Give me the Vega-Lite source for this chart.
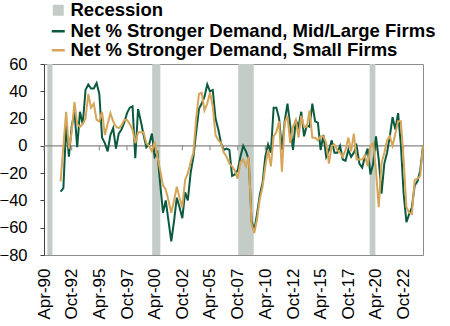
{
 "$schema": "https://vega.github.io/schema/vega-lite/v6.json",
 "width": 379, "height": 191,
 "autosize": {"type": "none"},
 "padding": {"left": 44, "top": 64, "right": 27, "bottom": 71},
 "config": {"font": "Liberation Sans", "view": {"stroke": "#8c8c8c", "strokeWidth": 1},
  "axisX": {"format": "%b-%y", "formatType": "utc", "labelAngle": -90, "labelAlign": "right", "labelBaseline": "middle", "labelFontSize": 17, "labelColor": "#000000", "labelPadding": 13, "ticks": false, "grid": false, "domainColor": "#8c8c8c", "labelOverlap": false, "labelFlush": false, "title": null},
  "axisY": {"grid": false, "tickSize": 4, "tickColor": "#404040", "domainColor": "#404040", "labelFontSize": 16.5, "labelColor": "#000000", "labelPadding": 13, "labelOverlap": false, "labelFlush": false, "title": null}
 },
 "datasets": {
  "ticks": [
   {"t": "1990-04-01"}, {"t": "1992-10-01"}, {"t": "1995-04-01"}, {"t": "1997-10-01"}, {"t": "2000-04-01"}, {"t": "2002-10-01"}, {"t": "2005-04-01"},
   {"t": "2007-10-01"}, {"t": "2010-04-01"}, {"t": "2012-10-01"}, {"t": "2015-04-01"}, {"t": "2017-10-01"}, {"t": "2020-04-01"}, {"t": "2022-10-01"}
  ]
 },
 "layer": [
  {
   "data": {"values": [
    {"start": "1990-07-20", "end": "1991-01-05", "k": "Recession"},
    {"start": "2000-01-10", "end": "2000-10-05", "k": "Recession"},
    {"start": "2007-10-20", "end": "2009-03-15", "k": "Recession"},
    {"start": "2019-09-05", "end": "2020-03-12", "k": "Recession"}
   ]},
   "mark": {"type": "rect"},
   "encoding": {
    "x": {"field": "start", "type": "temporal", "title": null,
     "scale": {"type": "utc", "domain": [{"year": 1990, "month": 4, "date": 1, "utc": true}, {"year": 2024, "month": 7, "date": 1, "utc": true}]},
     "axis": {"labelOverlap": false, "labelFlush": false, "values": [
       {"year": 1990, "month": 4, "date": 1, "utc": true}, {"year": 1992, "month": 10, "date": 1, "utc": true},
       {"year": 1995, "month": 4, "date": 1, "utc": true}, {"year": 1997, "month": 10, "date": 1, "utc": true},
       {"year": 2000, "month": 4, "date": 1, "utc": true}, {"year": 2002, "month": 10, "date": 1, "utc": true},
       {"year": 2005, "month": 4, "date": 1, "utc": true}, {"year": 2007, "month": 10, "date": 1, "utc": true},
       {"year": 2010, "month": 4, "date": 1, "utc": true}, {"year": 2012, "month": 10, "date": 1, "utc": true},
       {"year": 2015, "month": 4, "date": 1, "utc": true}, {"year": 2017, "month": 10, "date": 1, "utc": true},
       {"year": 2020, "month": 4, "date": 1, "utc": true}, {"year": 2022, "month": 10, "date": 1, "utc": true}
      ]}},
    "x2": {"field": "end"},
    "y": {"datum": 60, "type": "quantitative", "title": null, "scale": {"domain": [-80, 60], "nice": false}, "axis": {"labelOverlap": false, "labelFlush": false, "values": [-80, -60, -40, -20, 0, 20, 40, 60]}},
    "y2": {"datum": -80},
    "fill": {"field": "k", "type": "nominal", "scale": {"domain": ["Recession"], "range": ["#c3ccc7"]},
     "legend": {"orient": "none", "legendX": 5, "legendY": -63, "title": null, "symbolType": "square", "symbolSize": 121, "symbolStrokeWidth": 0, "labelFontSize": 18.5, "labelFontWeight": "bold", "labelColor": "#000000", "labelOffset": 3, "padding": 0}}
   }
  },
  {
   "data": {"values": [{"z": 0}]},
   "mark": {"type": "rule", "color": "#858585", "strokeWidth": 1.3},
   "encoding": {"y": {"field": "z", "type": "quantitative", "title": null, "axis": {"labelOverlap": false, "labelFlush": false, "values": [-80, -60, -40, -20, 0, 20, 40, 60]}}}
  },
  {
   "data": {"name": "ticks"},
   "mark": {"type": "rule", "color": "#858585", "strokeWidth": 1},
   "encoding": {
    "x": {"field": "t", "type": "temporal", "title": null,
     "axis": {"labelOverlap": false, "labelFlush": false, "values": [
       {"year": 1990, "month": 4, "date": 1, "utc": true}, {"year": 1992, "month": 10, "date": 1, "utc": true},
       {"year": 1995, "month": 4, "date": 1, "utc": true}, {"year": 1997, "month": 10, "date": 1, "utc": true},
       {"year": 2000, "month": 4, "date": 1, "utc": true}, {"year": 2002, "month": 10, "date": 1, "utc": true},
       {"year": 2005, "month": 4, "date": 1, "utc": true}, {"year": 2007, "month": 10, "date": 1, "utc": true},
       {"year": 2010, "month": 4, "date": 1, "utc": true}, {"year": 2012, "month": 10, "date": 1, "utc": true},
       {"year": 2015, "month": 4, "date": 1, "utc": true}, {"year": 2017, "month": 10, "date": 1, "utc": true},
       {"year": 2020, "month": 4, "date": 1, "utc": true}, {"year": 2022, "month": 10, "date": 1, "utc": true}
      ]}},
    "y": {"datum": 0, "type": "quantitative", "title": null, "axis": {"labelOverlap": false, "labelFlush": false, "values": [-80, -60, -40, -20, 0, 20, 40, 60]}},
    "y2": {"datum": -3.3}
   }
  },
  {
   "data": {"values": [
{"d":"1991-10-01","s":"ml","v":-33.5},{"d":"1992-01-01","s":"ml","v":-31},{"d":"1992-04-01","s":"ml","v":15},{"d":"1992-07-01","s":"ml","v":-8},{"d":"1992-10-01","s":"ml","v":14},
{"d":"1993-01-01","s":"ml","v":25},{"d":"1993-04-01","s":"ml","v":-1},{"d":"1993-07-01","s":"ml","v":25},{"d":"1993-10-01","s":"ml","v":16},
{"d":"1994-01-01","s":"ml","v":41},{"d":"1994-04-01","s":"ml","v":45},{"d":"1994-07-01","s":"ml","v":42},{"d":"1994-10-01","s":"ml","v":42},
{"d":"1995-01-01","s":"ml","v":46},{"d":"1995-04-01","s":"ml","v":38},{"d":"1995-07-01","s":"ml","v":6},{"d":"1995-10-01","s":"ml","v":2},
{"d":"1996-01-01","s":"ml","v":-4},{"d":"1996-04-01","s":"ml","v":8},{"d":"1996-07-01","s":"ml","v":13},{"d":"1996-10-01","s":"ml","v":-2},
{"d":"1997-01-01","s":"ml","v":9},{"d":"1997-04-01","s":"ml","v":12},{"d":"1997-07-01","s":"ml","v":17},{"d":"1997-10-01","s":"ml","v":24},
{"d":"1998-01-01","s":"ml","v":28},{"d":"1998-04-01","s":"ml","v":29},{"d":"1998-07-01","s":"ml","v":-9},{"d":"1998-10-01","s":"ml","v":27},
{"d":"1999-01-01","s":"ml","v":18},{"d":"1999-04-01","s":"ml","v":8},{"d":"1999-07-01","s":"ml","v":-1},{"d":"1999-10-01","s":"ml","v":1},
{"d":"2000-01-01","s":"ml","v":9},{"d":"2000-04-01","s":"ml","v":-8},{"d":"2000-07-01","s":"ml","v":-5},{"d":"2000-10-01","s":"ml","v":-28},
{"d":"2001-01-01","s":"ml","v":-49},{"d":"2001-04-01","s":"ml","v":-40},{"d":"2001-07-01","s":"ml","v":-55},{"d":"2001-10-01","s":"ml","v":-70},
{"d":"2002-01-01","s":"ml","v":-55},{"d":"2002-04-01","s":"ml","v":-38},{"d":"2002-07-01","s":"ml","v":-45},{"d":"2002-10-01","s":"ml","v":-53},
{"d":"2003-01-01","s":"ml","v":-34},{"d":"2003-04-01","s":"ml","v":-40},{"d":"2003-07-01","s":"ml","v":-20},{"d":"2003-10-01","s":"ml","v":-8},
{"d":"2004-01-01","s":"ml","v":10},{"d":"2004-04-01","s":"ml","v":27},{"d":"2004-07-01","s":"ml","v":31},{"d":"2004-10-01","s":"ml","v":36},
{"d":"2005-01-01","s":"ml","v":45},{"d":"2005-04-01","s":"ml","v":40},{"d":"2005-07-01","s":"ml","v":41},{"d":"2005-10-01","s":"ml","v":20},
{"d":"2006-01-01","s":"ml","v":12},{"d":"2006-04-01","s":"ml","v":2},{"d":"2006-07-01","s":"ml","v":-3},{"d":"2006-10-01","s":"ml","v":-2},
{"d":"2007-01-01","s":"ml","v":-3},{"d":"2007-04-01","s":"ml","v":-22},{"d":"2007-07-01","s":"ml","v":-21},{"d":"2007-10-01","s":"ml","v":-18},
{"d":"2008-01-01","s":"ml","v":-8},{"d":"2008-04-01","s":"ml","v":0},{"d":"2008-07-01","s":"ml","v":-4},{"d":"2008-10-01","s":"ml","v":-10},
{"d":"2009-01-01","s":"ml","v":-55},{"d":"2009-04-01","s":"ml","v":-62},{"d":"2009-07-01","s":"ml","v":-50},{"d":"2009-10-01","s":"ml","v":-36},
{"d":"2010-01-01","s":"ml","v":-27},{"d":"2010-04-01","s":"ml","v":-8},{"d":"2010-07-01","s":"ml","v":1},{"d":"2010-10-01","s":"ml","v":-5},
{"d":"2011-01-01","s":"ml","v":28},{"d":"2011-04-01","s":"ml","v":28},{"d":"2011-07-01","s":"ml","v":20},{"d":"2011-10-01","s":"ml","v":-3},
{"d":"2012-01-01","s":"ml","v":18},{"d":"2012-04-01","s":"ml","v":31},{"d":"2012-07-01","s":"ml","v":15},{"d":"2012-10-01","s":"ml","v":-3},
{"d":"2013-01-01","s":"ml","v":19},{"d":"2013-04-01","s":"ml","v":14},{"d":"2013-07-01","s":"ml","v":25},{"d":"2013-10-01","s":"ml","v":7},
{"d":"2014-01-01","s":"ml","v":15},{"d":"2014-04-01","s":"ml","v":14},{"d":"2014-07-01","s":"ml","v":31},{"d":"2014-10-01","s":"ml","v":18},
{"d":"2015-01-01","s":"ml","v":17},{"d":"2015-04-01","s":"ml","v":-3},{"d":"2015-07-01","s":"ml","v":8},{"d":"2015-10-01","s":"ml","v":-8},
{"d":"2016-01-01","s":"ml","v":-3},{"d":"2016-04-01","s":"ml","v":4},{"d":"2016-07-01","s":"ml","v":-5},{"d":"2016-10-01","s":"ml","v":-5},
{"d":"2017-01-01","s":"ml","v":0},{"d":"2017-04-01","s":"ml","v":-10},{"d":"2017-07-01","s":"ml","v":-11},{"d":"2017-10-01","s":"ml","v":-3},
{"d":"2018-01-01","s":"ml","v":-8},{"d":"2018-04-01","s":"ml","v":-5},{"d":"2018-07-01","s":"ml","v":0},{"d":"2018-10-01","s":"ml","v":-13},
{"d":"2019-01-01","s":"ml","v":-16},{"d":"2019-04-01","s":"ml","v":-8},{"d":"2019-07-01","s":"ml","v":-2},{"d":"2019-10-01","s":"ml","v":-21},
{"d":"2020-01-01","s":"ml","v":-13},{"d":"2020-04-01","s":"ml","v":7},{"d":"2020-07-01","s":"ml","v":-10},{"d":"2020-10-01","s":"ml","v":-35},
{"d":"2021-01-01","s":"ml","v":-13},{"d":"2021-04-01","s":"ml","v":-5},{"d":"2021-07-01","s":"ml","v":7},{"d":"2021-10-01","s":"ml","v":21},
{"d":"2022-01-01","s":"ml","v":12},{"d":"2022-04-01","s":"ml","v":24},{"d":"2022-07-01","s":"ml","v":1},{"d":"2022-10-01","s":"ml","v":-35},
{"d":"2023-01-01","s":"ml","v":-56},{"d":"2023-04-01","s":"ml","v":-50},{"d":"2023-07-01","s":"ml","v":-45},{"d":"2023-10-01","s":"ml","v":-29},
{"d":"2024-01-01","s":"ml","v":-26},{"d":"2024-04-01","s":"ml","v":-18},{"d":"2024-07-01","s":"ml","v":0},
{"d":"1991-10-01","s":"sm","v":-26},{"d":"1992-01-01","s":"sm","v":0},{"d":"1992-04-01","s":"sm","v":25},{"d":"1992-07-01","s":"sm","v":-2},{"d":"1992-10-01","s":"sm","v":10},
{"d":"1993-01-01","s":"sm","v":32},{"d":"1993-04-01","s":"sm","v":16},{"d":"1993-07-01","s":"sm","v":14},{"d":"1993-10-01","s":"sm","v":16},
{"d":"1994-01-01","s":"sm","v":20},{"d":"1994-04-01","s":"sm","v":38},{"d":"1994-07-01","s":"sm","v":28},{"d":"1994-10-01","s":"sm","v":31},
{"d":"1995-01-01","s":"sm","v":19},{"d":"1995-04-01","s":"sm","v":18},{"d":"1995-07-01","s":"sm","v":25},{"d":"1995-10-01","s":"sm","v":8},
{"d":"1996-01-01","s":"sm","v":16},{"d":"1996-04-01","s":"sm","v":24},{"d":"1996-07-01","s":"sm","v":18},{"d":"1996-10-01","s":"sm","v":14},
{"d":"1997-01-01","s":"sm","v":13},{"d":"1997-04-01","s":"sm","v":15},{"d":"1997-07-01","s":"sm","v":19},{"d":"1997-10-01","s":"sm","v":19},
{"d":"1998-01-01","s":"sm","v":16},{"d":"1998-04-01","s":"sm","v":12},{"d":"1998-07-01","s":"sm","v":2},{"d":"1998-10-01","s":"sm","v":10},
{"d":"1999-01-01","s":"sm","v":10},{"d":"1999-04-01","s":"sm","v":10},{"d":"1999-07-01","s":"sm","v":2},{"d":"1999-10-01","s":"sm","v":0},
{"d":"2000-01-01","s":"sm","v":-4},{"d":"2000-04-01","s":"sm","v":3},{"d":"2000-07-01","s":"sm","v":-8},{"d":"2000-10-01","s":"sm","v":-18},
{"d":"2001-01-01","s":"sm","v":-29},{"d":"2001-04-01","s":"sm","v":-32},{"d":"2001-07-01","s":"sm","v":-40},{"d":"2001-10-01","s":"sm","v":-49},
{"d":"2002-01-01","s":"sm","v":-40},{"d":"2002-04-01","s":"sm","v":-30},{"d":"2002-07-01","s":"sm","v":-38},{"d":"2002-10-01","s":"sm","v":-45},
{"d":"2003-01-01","s":"sm","v":-25},{"d":"2003-04-01","s":"sm","v":-20},{"d":"2003-07-01","s":"sm","v":-12},{"d":"2003-10-01","s":"sm","v":-5},
{"d":"2004-01-01","s":"sm","v":20},{"d":"2004-04-01","s":"sm","v":38},{"d":"2004-07-01","s":"sm","v":39},{"d":"2004-10-01","s":"sm","v":26},
{"d":"2005-01-01","s":"sm","v":31},{"d":"2005-04-01","s":"sm","v":39},{"d":"2005-07-01","s":"sm","v":29},{"d":"2005-10-01","s":"sm","v":8},
{"d":"2006-01-01","s":"sm","v":4},{"d":"2006-04-01","s":"sm","v":2},{"d":"2006-07-01","s":"sm","v":-5},{"d":"2006-10-01","s":"sm","v":-8},
{"d":"2007-01-01","s":"sm","v":-13},{"d":"2007-04-01","s":"sm","v":-15},{"d":"2007-07-01","s":"sm","v":-18},{"d":"2007-10-01","s":"sm","v":-24},
{"d":"2008-01-01","s":"sm","v":-12},{"d":"2008-04-01","s":"sm","v":-10},{"d":"2008-07-01","s":"sm","v":-15},{"d":"2008-10-01","s":"sm","v":-8},
{"d":"2009-01-01","s":"sm","v":-57},{"d":"2009-04-01","s":"sm","v":-64},{"d":"2009-07-01","s":"sm","v":-54},{"d":"2009-10-01","s":"sm","v":-39},
{"d":"2010-01-01","s":"sm","v":-30},{"d":"2010-04-01","s":"sm","v":-15},{"d":"2010-07-01","s":"sm","v":-3},{"d":"2010-10-01","s":"sm","v":-15},
{"d":"2011-01-01","s":"sm","v":7},{"d":"2011-04-01","s":"sm","v":10},{"d":"2011-07-01","s":"sm","v":18},{"d":"2011-10-01","s":"sm","v":-19},
{"d":"2012-01-01","s":"sm","v":17},{"d":"2012-04-01","s":"sm","v":22},{"d":"2012-07-01","s":"sm","v":2},{"d":"2012-10-01","s":"sm","v":14},
{"d":"2013-01-01","s":"sm","v":19},{"d":"2013-04-01","s":"sm","v":6},{"d":"2013-07-01","s":"sm","v":22},{"d":"2013-10-01","s":"sm","v":14},
{"d":"2014-01-01","s":"sm","v":14},{"d":"2014-04-01","s":"sm","v":26},{"d":"2014-07-01","s":"sm","v":6},{"d":"2014-10-01","s":"sm","v":6},
{"d":"2015-01-01","s":"sm","v":4},{"d":"2015-04-01","s":"sm","v":7},{"d":"2015-07-01","s":"sm","v":7},{"d":"2015-10-01","s":"sm","v":2},
{"d":"2016-01-01","s":"sm","v":-13},{"d":"2016-04-01","s":"sm","v":0},{"d":"2016-07-01","s":"sm","v":1},{"d":"2016-10-01","s":"sm","v":-3},
{"d":"2017-01-01","s":"sm","v":-5},{"d":"2017-04-01","s":"sm","v":-8},{"d":"2017-07-01","s":"sm","v":-3},{"d":"2017-10-01","s":"sm","v":6},
{"d":"2018-01-01","s":"sm","v":-4},{"d":"2018-04-01","s":"sm","v":9},{"d":"2018-07-01","s":"sm","v":-10},{"d":"2018-10-01","s":"sm","v":-10},
{"d":"2019-01-01","s":"sm","v":-10},{"d":"2019-04-01","s":"sm","v":-7},{"d":"2019-07-01","s":"sm","v":-15},{"d":"2019-10-01","s":"sm","v":0},
{"d":"2020-01-01","s":"sm","v":2},{"d":"2020-04-01","s":"sm","v":-18},{"d":"2020-07-01","s":"sm","v":-45},{"d":"2020-10-01","s":"sm","v":-13},
{"d":"2021-01-01","s":"sm","v":-5},{"d":"2021-04-01","s":"sm","v":4},{"d":"2021-07-01","s":"sm","v":7},{"d":"2021-10-01","s":"sm","v":0},
{"d":"2022-01-01","s":"sm","v":9},{"d":"2022-04-01","s":"sm","v":18},{"d":"2022-07-01","s":"sm","v":18},{"d":"2022-10-01","s":"sm","v":-10},
{"d":"2023-01-01","s":"sm","v":-45},{"d":"2023-04-01","s":"sm","v":-49},{"d":"2023-07-01","s":"sm","v":-50},{"d":"2023-10-01","s":"sm","v":-25},
{"d":"2024-01-01","s":"sm","v":-24},{"d":"2024-04-01","s":"sm","v":-22},{"d":"2024-07-01","s":"sm","v":0}
   ]},
   "mark": {"type": "line", "strokeWidth": 2},
   "encoding": {
    "x": {"field": "d", "type": "temporal", "title": null,
     "axis": {"labelOverlap": false, "labelFlush": false, "values": [
       {"year": 1990, "month": 4, "date": 1, "utc": true}, {"year": 1992, "month": 10, "date": 1, "utc": true},
       {"year": 1995, "month": 4, "date": 1, "utc": true}, {"year": 1997, "month": 10, "date": 1, "utc": true},
       {"year": 2000, "month": 4, "date": 1, "utc": true}, {"year": 2002, "month": 10, "date": 1, "utc": true},
       {"year": 2005, "month": 4, "date": 1, "utc": true}, {"year": 2007, "month": 10, "date": 1, "utc": true},
       {"year": 2010, "month": 4, "date": 1, "utc": true}, {"year": 2012, "month": 10, "date": 1, "utc": true},
       {"year": 2015, "month": 4, "date": 1, "utc": true}, {"year": 2017, "month": 10, "date": 1, "utc": true},
       {"year": 2020, "month": 4, "date": 1, "utc": true}, {"year": 2022, "month": 10, "date": 1, "utc": true}
      ]}},
    "y": {"field": "v", "type": "quantitative", "title": null, "axis": {"labelOverlap": false, "labelFlush": false, "values": [-80, -60, -40, -20, 0, 20, 40, 60]}},
    "stroke": {"field": "s", "type": "nominal", "scale": {"domain": ["ml", "sm"], "range": ["#0b5a3e", "#d6a55a"]},
     "legend": {"orient": "none", "legendX": 5, "legendY": -42, "title": null, "symbolType": "stroke", "symbolSize": 169, "symbolStrokeWidth": 2.5, "labelFontSize": 18.5, "labelFontWeight": "bold", "labelColor": "#000000", "labelOffset": 3, "rowPadding": 0, "padding": 0,
      "labelExpr": "datum.label == 'ml' ? 'Net % Stronger Demand, Mid/Large Firms' : 'Net % Stronger Demand, Small Firms'", "labelLimit": 500}}
   }
  }
 ]
}
